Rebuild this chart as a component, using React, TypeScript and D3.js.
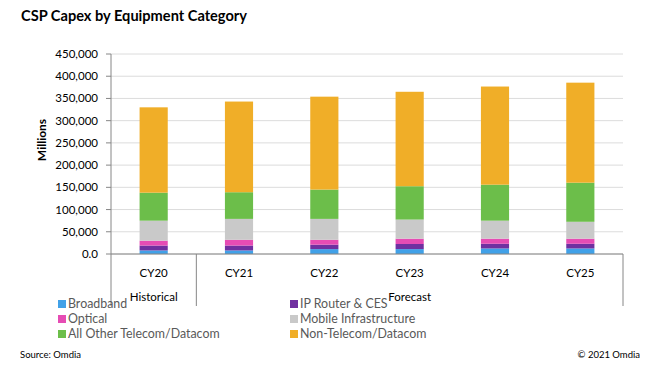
import React from "react";
import * as d3 from "d3";

const categories = ["CY20", "CY21", "CY22", "CY23", "CY24", "CY25"];
const groups = [
  { label: "Historical", from: "CY20", to: "CY20" },
  { label: "Forecast", from: "CY21", to: "CY25" },
];
const seriesNames = [
  "Broadband",
  "IP Router & CES",
  "Optical",
  "Mobile Infrastructure",
  "All Other Telecom/Datacom",
  "Non-Telecom/Datacom",
];
const seriesColors = ["#41A1E8", "#7030A0", "#E64CB4", "#C9C9C9", "#6CBE4A", "#F0AE28"];
const broadband = [8000, 8000, 11000, 11000, 12500, 12500];
const ipRouter = [11000, 11000, 10000, 11500, 10500, 10500];
const optical = [11000, 13000, 11000, 12000, 11500, 11500];
const mobile = [45000, 47000, 47000, 43000, 40500, 38000];
const otherTelecom = [63000, 60000, 66000, 75000, 81000, 88000];
const nonTelecom = [192000, 204000, 209000, 212500, 220800, 225000];
const yTicks = [0, 50000, 100000, 150000, 200000, 250000, 300000, 350000, 400000, 450000];

const FONT = "Lato, 'Open Sans', sans-serif";

export default function App() {
  const W = 653;
  const H = 378;
  const left = 111;
  const right = 623;
  const top = 54;
  const bottom = 254;

  const seriesValues = [broadband, ipRouter, optical, mobile, otherTelecom, nonTelecom];
  const rows = categories.map((c, i) => {
    const r: any = { cat: c };
    seriesNames.forEach((s, k) => (r[s] = seriesValues[k][i]));
    return r;
  });
  const stacked = d3.stack().keys(seriesNames)(rows);

  const x = d3
    .scaleBand()
    .domain(categories)
    .range([left, right])
    .paddingInner(0.67)
    .paddingOuter(0.335);
  const y = d3.scaleLinear().domain([0, 450000]).range([bottom, top]);
  const step = x.step();
  const center = (c: string) => (x(c) as number) + x.bandwidth() / 2;

  const fmt = (v: number) => (v === 0 ? "0.0" : d3.format(",")(v));

  const boundaries = [left];
  groups.forEach((g) => boundaries.push(center(g.to) + step / 2));

  const legendCols = [58, 290];
  const legendRows = [304, 319, 334];

  return (
    <svg
      width={W}
      height={H}
      style={{ position: "absolute", left: 0, top: 0, background: "#fff" }}
      fontFamily={FONT}
    >
      <rect x={0} y={0} width={W} height={H} fill="#fff" />
      <text x={21} y={21} fontSize={14.6} fontWeight="bold" fill="#000">
        CSP Capex by Equipment Category
      </text>

      {/* gridlines */}
      {yTicks.map((t) => (
        <line key={"g" + t} x1={left} x2={right} y1={y(t)} y2={y(t)} stroke="#dcdcdc" strokeWidth={1} />
      ))}

      {/* bars */}
      {stacked.map((layer, k) => (
        <g key={layer.key} fill={seriesColors[k]}>
          {layer.map((d, i) => (
            <rect
              key={i}
              x={x(categories[i]) as number}
              width={x.bandwidth()}
              y={y(d[1])}
              height={y(d[0]) - y(d[1])}
            />
          ))}
        </g>
      ))}

      {/* y axis */}
      <line x1={left} x2={left} y1={top} y2={bottom} stroke="#868686" />
      {yTicks.map((t) => (
        <g key={"t" + t}>
          <line x1={left - 5} x2={left} y1={y(t)} y2={y(t)} stroke="#868686" />
          <text x={98} y={y(t)} dy="0.35em" textAnchor="end" fontSize={11.5} fill="#000">
            {fmt(t)}
          </text>
        </g>
      ))}
      <text
        transform={`translate(46,140) rotate(-90)`}
        textAnchor="middle"
        fontSize={12}
        fontWeight="bold"
        fill="#000"
      >
        Millions
      </text>

      {/* x axis */}
      <line x1={left} x2={right} y1={bottom} y2={bottom} stroke="#868686" />
      {boundaries.map((b, i) => (
        <line key={"b" + i} x1={b} x2={b} y1={bottom} y2={306} stroke="#868686" />
      ))}
      {categories.map((c) => (
        <text key={c} x={center(c)} y={277} textAnchor="middle" fontSize={11.5} fill="#000">
          {c}
        </text>
      ))}
      {groups.map((g) => (
        <text
          key={g.label}
          x={(center(g.from) + center(g.to)) / 2}
          y={301}
          textAnchor="middle"
          fontSize={11.5}
          fill="#000"
        >
          {g.label}
        </text>
      ))}

      {/* legend */}
      {seriesNames.map((s, k) => {
        const col = k % 2;
        const row = Math.floor(k / 2);
        const lx = legendCols[col];
        const ly = legendRows[row];
        return (
          <g key={s}>
            <rect x={lx} y={ly - 4} width={8} height={8} fill={seriesColors[k]} />
            <text x={lx + 10} y={ly} dy="0.35em" fontSize={12.4} fill="#595959">
              {s}
            </text>
          </g>
        );
      })}

      <text x={20} y={358} fontSize={9.5} fill="#000">
        Source: Omdia
      </text>
      <text x={640} y={358} textAnchor="end" fontSize={9.5} fill="#000">
        © 2021 Omdia
      </text>
    </svg>
  );
}
